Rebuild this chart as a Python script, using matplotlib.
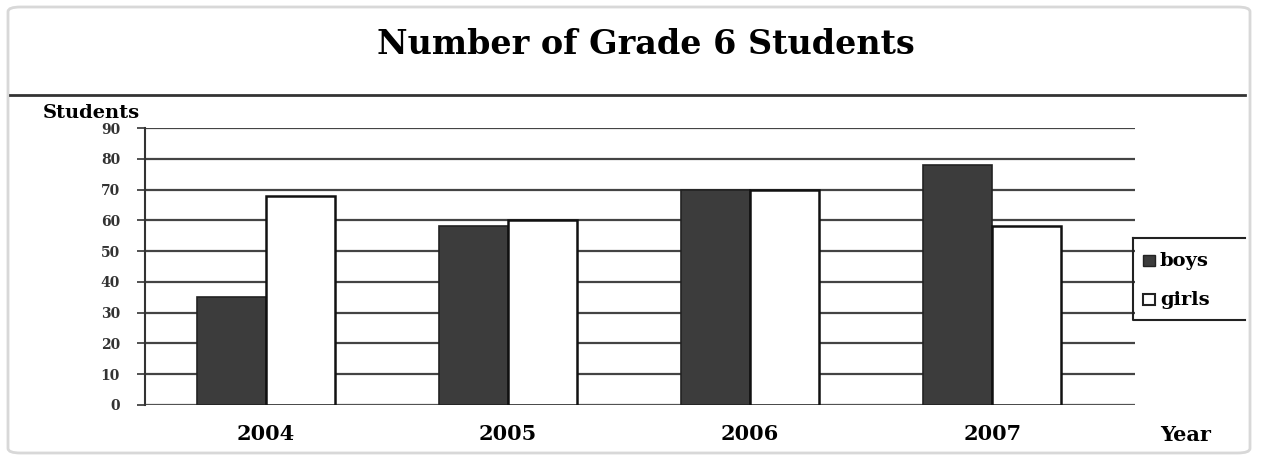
import matplotlib
matplotlib.use("Agg")
import matplotlib.pyplot as plt
import numpy as np
from matplotlib.patches import Rectangle, FancyBboxPatch
from matplotlib.lines import Line2D

years = ["2004", "2005", "2006", "2007"]
boys = [35, 58, 70, 78]
girls = [68, 60, 70, 58]
yticks = [0, 10, 20, 30, 40, 50, 60, 70, 80, 90]

W, H = 1266, 459
fig = plt.figure(figsize=(W/100, H/100), dpi=100)
fig.patch.set_facecolor("white")

serif = "DejaVu Serif"

# outer frame
fig.add_artist(FancyBboxPatch((8/W, 6/H), 1242/W, 446/H, boxstyle="round,pad=0,rounding_size=0.01",
                              transform=fig.transFigure, facecolor="none", edgecolor="#d8d8d8", lw=2))

ax = fig.add_axes([145/W, 1-405/H, (1135-145)/W, (405-128)/H])
x = np.arange(len(years))
bw = 0.285
ax.bar(x - bw/2, boys, bw, color="#3c3c3c", edgecolor="#222222", lw=1.2, zorder=3, label="boys")
ax.bar(x + bw/2, girls, bw, color="white", edgecolor="#111111", lw=1.8, zorder=3, label="girls")

ax.set_xlim(-0.5, 3.59)
ax.set_ylim(0, 90)
ax.set_yticks(yticks)
ax.set_yticklabels([str(t) for t in yticks], fontfamily=serif, fontweight="bold", fontsize=10, color="#333333")
ax.set_xticks(x)
ax.set_xticklabels(years, fontfamily=serif, fontweight="bold", fontsize=15)
ax.tick_params(axis="x", length=0, pad=14)
ax.tick_params(axis="y", length=6, width=1.2, direction="out", pad=12, color="#333333")
ax.yaxis.grid(True, color="#444444", lw=1.6, zorder=0)
for s in ["top", "right", "bottom"]:
    ax.spines[s].set_visible(False)
ax.spines["left"].set_color("#333333")
ax.spines["left"].set_linewidth(1.5)
ax.axhline(0, color="#555555", lw=1.2, zorder=2)

# title and separator
fig.text(646/W, 1-45/H, "Number of Grade 6 Students", ha="center", va="center",
         fontfamily=serif, fontweight="bold", fontsize=24)
fig.add_artist(Line2D([10/W, 1245/W], [1-95/H, 1-95/H], transform=fig.transFigure, color="#333333", lw=2))

fig.text(140/W, 1-113/H, "Students", ha="right", va="center", fontfamily=serif,
         fontweight="bold", fontsize=14)
fig.text(1160/W, 1-435/H, "Year", ha="left", va="center", fontfamily=serif,
         fontweight="bold", fontsize=15)

# legend box
fig.add_artist(Line2D([1133/W, 1133/W, 1245/W], [1-238/H, 1-320/H, 1-320/H], transform=fig.transFigure, color="#222222", lw=1.5))
fig.add_artist(Line2D([1133/W, 1245/W], [1-238/H, 1-238/H], transform=fig.transFigure, color="#222222", lw=1.5))
fig.add_artist(Rectangle((1143/W, 1-266/H), 12/W, 11/H, transform=fig.transFigure, facecolor="#3c3c3c", edgecolor="#222222", lw=1))
fig.add_artist(Rectangle((1143/W, 1-305/H), 12/W, 11/H, transform=fig.transFigure, facecolor="white", edgecolor="#222222", lw=1.5))
fig.text(1160/W, 1-261/H, "boys", ha="left", va="center", fontfamily=serif, fontweight="bold", fontsize=14)
fig.text(1160/W, 1-300/H, "girls", ha="left", va="center", fontfamily=serif, fontweight="bold", fontsize=14)

fig.savefig("out.png", dpi=100)
